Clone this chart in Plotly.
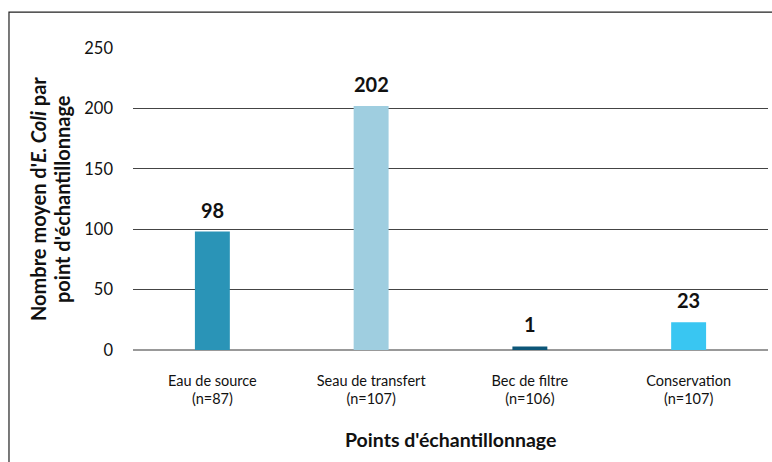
import plotly.graph_objects as go

categories = ["Eau de source<br>(n=87)", "Seau de transfert<br>(n=107)",
              "Bec de filtre<br>(n=106)", "Conservation<br>(n=107)"]
values = [98, 202, 3, 23]
value_labels = ["98", "202", "1", "23"]
colors = ["#2a94b7", "#9fcee0", "#0c5678", "#39c6f2"]
y_title_lines = ["Nombre moyen d'<i>E. Coli</i> par", "point d'échantillonnage"]
x_title = "Points d'échantillonnage"

FONT = "Lato, 'Open Sans', sans-serif"

fig = go.Figure()
fig.add_trace(go.Bar(
    x=categories, y=values, marker=dict(color=colors, line=dict(width=0)),
    width=0.22, hoverinfo="skip", showlegend=False,
))

for c, v, t in zip(categories, values, value_labels):
    fig.add_annotation(x=c, y=v, xref="x", yref="y", text=f"<b>{t}</b>",
                       showarrow=False, yanchor="middle", yshift=22,
                       font=dict(family=FONT, size=20, color="#111"))

# y-axis title (two lines)
for xpos, line in zip([-0.1496, -0.1118], y_title_lines):
    fig.add_annotation(x=xpos, y=0.5, xref="paper", yref="paper",
                       text=f"<b>{line}</b>", textangle=-90, showarrow=False,
                       xanchor="center", yanchor="middle",
                       font=dict(family=FONT, size=20, color="#111"))

# x-axis title
fig.add_annotation(x=0.5, y=-0.298, xref="paper", yref="paper",
                   text=f"<b>{x_title}</b>", showarrow=False,
                   xanchor="center", yanchor="middle",
                   font=dict(family=FONT, size=19.5, color="#111"))

# outer border
fig.add_shape(type="rect", xref="paper", yref="paper",
              x0=-0.1953, y0=-0.4, x1=1.2, y1=1.119,
              line=dict(color="#222", width=1.2), layer="below")

fig.update_layout(
    width=772, height=462,
    margin=dict(l=133, r=4, t=48, b=112, autoexpand=False),
    paper_bgcolor="white", plot_bgcolor="white",
    font=dict(family=FONT, size=14, color="#111"),
    xaxis=dict(
        showgrid=False, showline=False, zeroline=False,
        tickfont=dict(size=14.5, color="#111"), ticks="",
        ticklabelstandoff=20,
    ),
    yaxis=dict(
        range=[0, 250], tickvals=[0, 50, 100, 150, 200, 250],
        showgrid=True, gridcolor="#444", gridwidth=1,
        zeroline=True, zerolinecolor="#999", zerolinewidth=2,
        showline=False, ticks="",
        tickfont=dict(size=16.5, color="#111"), ticklabelstandoff=19,
    ),
)

fig.write_html("out.html", config={"displayModeBar": False},
               post_script="document.body.style.margin='0';document.body.style.overflow='hidden';")
